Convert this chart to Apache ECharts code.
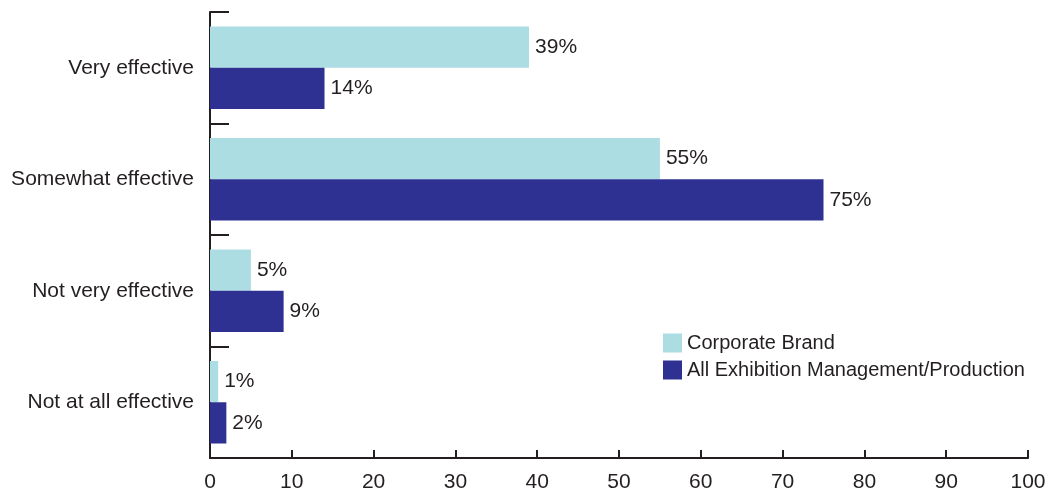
<!DOCTYPE html>
<html><head><meta charset="utf-8">
<script src="https://cdn.jsdelivr.net/npm/echarts@6/dist/echarts.min.js"></script>
<style>html,body{margin:0;padding:0;background:#fff}#c{width:1054px;height:497px}</style>
</head><body><div id="c"></div>
<script>
const categories = ["Very effective", "Somewhat effective", "Not very effective", "Not at all effective"];
const corporateBrand = [39, 55, 5, 1];
const allExhibition = [14, 75, 9, 2];
const seriesNames = ["Corporate Brand", "All Exhibition Management/Production"];
const FONT = "'Liberation Sans Narrow', 'Arial Narrow', sans-serif";
const TXT = "#231f20";
const chart = echarts.init(document.getElementById('c'), null, {renderer: 'canvas'});
const lbl = {show: true, position: 'right', distance: 6, formatter: '{c}%', color: TXT, fontFamily: FONT, fontSize: 21};
chart.setOption({
  animation: false,
  grid: {left: 210, right: 26, top: 12, bottom: 39, containLabel: false},
  legend: {
    orient: 'vertical', left: 663, top: 333, padding: 0, itemWidth: 19, itemHeight: 19, itemGap: 7,
    icon: 'rect', textStyle: {color: TXT, fontFamily: FONT, fontSize: 20},
    data: seriesNames
  },
  xAxis: {
    type: 'value', min: 0, max: 100, interval: 10,
    axisLine: {show: true, lineStyle: {color: TXT, width: 2}},
    axisTick: {show: true, inside: true, length: 8, lineStyle: {color: TXT, width: 2}},
    axisLabel: {color: TXT, fontFamily: FONT, fontSize: 21, margin: 14},
    splitLine: {show: false}
  },
  yAxis: {
    type: 'category', data: categories, inverse: true,
    axisLine: {show: true, lineStyle: {color: TXT, width: 2}},
    axisTick: {show: true, inside: true, length: 19, lineStyle: {color: TXT, width: 2}},
    axisLabel: {color: TXT, fontFamily: FONT, fontSize: 21, margin: 16}
  },
  series: [
    {name: seriesNames[0], type: 'bar', data: corporateBrand, barGap: '0%', barCategoryGap: '26%',
     itemStyle: {color: '#acdde2'}, label: lbl},
    {name: seriesNames[1], type: 'bar', data: allExhibition, barGap: '0%', barCategoryGap: '26%',
     itemStyle: {color: '#2e3092'}, label: lbl}
  ]
});
</script></body></html>
